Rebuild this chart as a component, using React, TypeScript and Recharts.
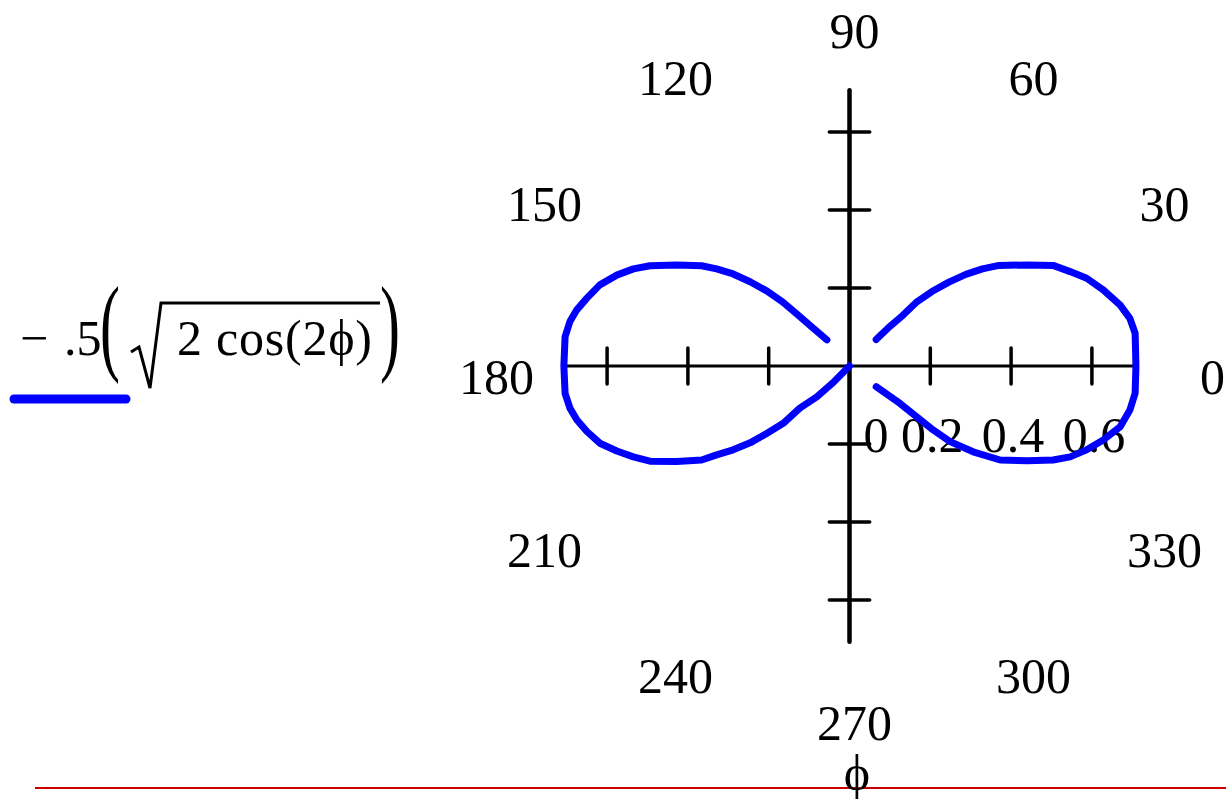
import { ScatterChart, Scatter, XAxis, YAxis, ReferenceLine, Legend } from 'recharts';

// points, in plot units (x to the right, y up)
const leftX = [
  -0.056, -0.09, -0.13, -0.165, -0.204, -0.246, -0.288, -0.329, -0.366, -0.428,
  -0.494, -0.535, -0.576, -0.618, -0.65, -0.675, -0.692, -0.704, -0.707, -0.704,
  -0.692, -0.675, -0.65, -0.618, -0.576, -0.535, -0.494, -0.428, -0.366, -0.329,
  -0.288, -0.246, -0.205, -0.164, -0.123, -0.081, -0.04, 0,
];
const leftY = [
  0.067, 0.097, 0.133, 0.164, 0.192, 0.216, 0.236, 0.249, 0.257, 0.259,
  0.257, 0.249, 0.233, 0.208, 0.174, 0.144, 0.114, 0.075, 0, -0.07,
  -0.108, -0.138, -0.168, -0.198, -0.218, -0.233, -0.244, -0.245, -0.241, -0.228,
  -0.215, -0.197, -0.173, -0.147, -0.108, -0.079, -0.042, 0,
];
const rightX = [
  0.066, 0.095, 0.125, 0.166, 0.207, 0.249, 0.306, 0.373, 0.44, 0.504,
  0.546, 0.587, 0.628, 0.67, 0.694, 0.707, 0.709, 0.707, 0.694, 0.67,
  0.628, 0.587, 0.546, 0.504, 0.44, 0.37, 0.329, 0.288, 0.246, 0.204,
  0.165, 0.132, 0.095, 0.066,
];
const rightY = [
  -0.053, -0.074, -0.096, -0.13, -0.164, -0.194, -0.22, -0.241, -0.243, -0.241,
  -0.233, -0.215, -0.19, -0.156, -0.113, -0.07, 0, 0.084, 0.122, 0.156,
  0.195, 0.225, 0.242, 0.258, 0.259, 0.258, 0.249, 0.235, 0.215, 0.191,
  0.163, 0.13, 0.097, 0.068,
];

const tickValues = [-0.6, -0.4, -0.2, 0.2, 0.4, 0.6];
const tickLabelValues = [0, 0.2, 0.4, 0.6];
const tickLabels = ['0', '0.2', '0.4', '0.6'];
const angleLabels = [0, 30, 60, 90, 120, 150, 180, 210, 240, 270, 300, 330];
const axisMax = 0.707;

const CURVE_NAME = '- .5(sqrt(2 cos(2phi)))';
const BLUE = '#0000ff';
const FONT = '"Liberation Serif", "Times New Roman", serif';

// layout
const W = 1226;
const H = 799;
const CX = 849.5;
const CY = 366;
const SX = 404;
const SY = 390;
const LABEL_R = 0.886;
const TICK_LABEL_Y = -0.22;
const TICK_H = 0.046;
const TICK_V = 0.05;

const leftLobe = leftX.map((x, i) => ({ x, y: leftY[i] }));
const rightLobe = rightX.map((x, i) => ({ x, y: rightY[i] }));
const angleData = angleLabels.map((a) => ({
  x: LABEL_R * Math.cos((a * Math.PI) / 180),
  y: LABEL_R * Math.sin((a * Math.PI) / 180),
  label: String(a),
}));
const tickLabelData = tickLabelValues.map((v, i) => ({ x: v, y: TICK_LABEL_Y, label: tickLabels[i] }));

const NoDot = () => <g />;

const AngleLabel = (props: any) => (
  <text x={props.cx + 5} y={props.cy + 28} textAnchor="middle" fontFamily={FONT} fontSize={50} fill="#000">
    {props.payload.label}
  </text>
);

const TickLabel = (props: any) => (
  <text
    x={props.cx + (props.payload.x === 0 ? 26.5 : 2)}
    y={props.cy}
    textAnchor="middle"
    fontFamily={FONT}
    fontSize={50}
    fill="#000"
  >
    {props.payload.label}
  </text>
);

// legend box starts at page y = 260
const renderLegend = (props: any) => {
  const item = (props.payload || []).find((p: any) => p.value === CURVE_NAME);
  const color = item ? item.color : BLUE;
  return (
    <svg width={420} height={180} style={{ display: 'block', overflow: 'visible' }}>
      <g fontFamily={FONT} fill="#000">
        <text x={20} y={95} fontSize={50}>−</text>
        <text x={64} y={95} fontSize={50}>.5</text>
        <text transform="translate(100 101) scale(1 1.8)" fontSize={60}>(</text>
        <path d="M 131 92 L 139 87 L 150 128 L 161 43 L 380 43" fill="none" stroke="#000" strokeWidth={3} />
        <text x={177} y={95} fontSize={50} textLength={195} lengthAdjust="spacing">2 cos(2ϕ)</text>
        <text transform="translate(380 101) scale(1 1.8)" fontSize={60}>)</text>
      </g>
      <line x1={14} y1={139} x2={126} y2={139} stroke={color} strokeWidth={9} strokeLinecap="round" />
    </svg>
  );
};

const lineStyle = { stroke: BLUE, strokeWidth: 7, strokeLinejoin: 'round', strokeLinecap: 'round' };

export default function App() {
  return (
    <div style={{ position: 'absolute', left: 0, top: 0, width: W, height: H, background: '#fff' }}>
      <ScatterChart width={W} height={H} margin={{ top: 0, right: 0, bottom: 0, left: 0 }}>
        <XAxis
          type="number"
          dataKey="x"
          hide
          allowDataOverflow
          domain={[-CX / SX, (W - CX) / SX]}
        />
        <YAxis
          type="number"
          dataKey="y"
          hide
          allowDataOverflow
          domain={[-(H - CY) / SY, CY / SY]}
        />
        <Legend
          layout="vertical"
          align="center"
          verticalAlign="middle"
          content={renderLegend}
          wrapperStyle={{ position: 'absolute', left: 0, top: 260, width: 420, height: 180 }}
        />
        <ReferenceLine
          segment={[{ x: -axisMax, y: 0 }, { x: axisMax, y: 0 }]}
          stroke="#000"
          strokeWidth={3}
        />
        <ReferenceLine
          segment={[{ x: 0, y: -axisMax }, { x: 0, y: axisMax }]}
          stroke="#000"
          strokeWidth={4.5}
          strokeLinecap="round"
        />
        {tickValues.map((v) => (
          <ReferenceLine
            key={'h' + v}
            segment={[{ x: v, y: -TICK_H }, { x: v, y: TICK_H }]}
            stroke="#000"
            strokeWidth={3.5}
            strokeLinecap="round"
          />
        ))}
        {tickValues.map((v) => (
          <ReferenceLine
            key={'v' + v}
            segment={[{ x: -TICK_V, y: v }, { x: TICK_V, y: v }]}
            stroke="#000"
            strokeWidth={3.5}
            strokeLinecap="round"
          />
        ))}
        <Scatter data={angleData} shape={AngleLabel} legendType="none" isAnimationActive={false} />
        <Scatter data={tickLabelData} shape={TickLabel} legendType="none" isAnimationActive={false} />
        <Scatter
          name={CURVE_NAME}
          data={leftLobe}
          fill={BLUE}
          line={lineStyle}
          lineType="joint"
          shape={NoDot}
          isAnimationActive={false}
        />
        <Scatter
          data={rightLobe}
          fill={BLUE}
          line={lineStyle}
          lineType="joint"
          shape={NoDot}
          legendType="none"
          isAnimationActive={false}
        />
      </ScatterChart>
      <svg width={W} height={H} style={{ position: 'absolute', left: 0, top: 0, pointerEvents: 'none' }}>
        <line x1={35} y1={788} x2={W} y2={788} stroke="#cc0000" strokeWidth={2} />
        <text x={857} y={790} textAnchor="middle" fontFamily={FONT} fontSize={50} fill="#000">ϕ</text>
      </svg>
    </div>
  );
}
